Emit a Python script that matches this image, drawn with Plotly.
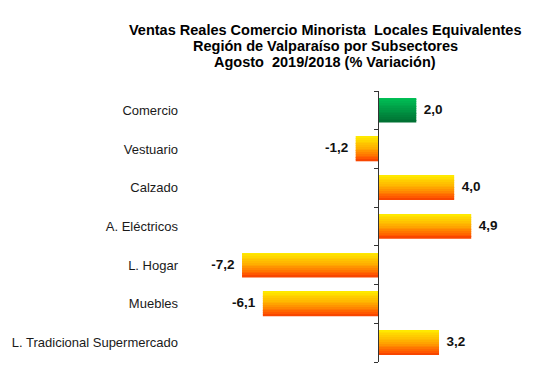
import plotly.graph_objects as go

# ---- data ----
categories = ["Comercio", "Vestuario", "Calzado", "A. Eléctricos",
              "L. Hogar", "Muebles", "L. Tradicional Supermercado"]
variation = [2.0, -1.2, 4.0, 4.9, -7.2, -6.1, 3.2]
title_lines = ["Ventas Reales Comercio Minorista  Locales Equivalentes",
               "Región de Valparaíso por Subsectores",
               "Agosto  2019/2018 (% Variación)"]

# ---- styling ----
W, H = 539, 379
ML, MR, MT, MB = 189, 28, 91, 17
x_min, x_max = -10.0, 7.0
bar_w = 0.63
n_slices = 14
warm_stops = [(0.0, (255, 238, 0)), (0.5, (255, 170, 0)), (0.93, (255, 80, 0)), (1.0, (240, 60, 0))]
green_stops = [(0.0, (0, 194, 86)), (1.0, (0, 110, 50))]
FONT = "Liberation Sans, Arial, sans-serif"


def interp(stops, t):
    for (t0, c0), (t1, c1) in zip(stops[:-1], stops[1:]):
        if t0 <= t <= t1:
            f = (t - t0) / (t1 - t0) if t1 > t0 else 0
            return "rgb(%d,%d,%d)" % tuple(round(a + (b - a) * f) for a, b in zip(c0, c1))
    return "rgb(%d,%d,%d)" % stops[-1][1]


fig = go.Figure()
sw = bar_w / n_slices
for i in range(n_slices):
    t = (i + 0.5) / n_slices
    cols = [interp(green_stops if c == "Comercio" else warm_stops, t) for c in categories]
    fig.add_trace(go.Bar(
        x=variation, y=categories, orientation="h",
        width=sw * 1.02, offset=-bar_w / 2 + i * sw,
        marker=dict(color=cols, line=dict(width=0)),
        hoverinfo="skip", showlegend=False,
    ))

# value labels
labels = [("%.1f" % v).replace(".", ",") for v in variation]
fig.add_trace(go.Scatter(
    x=variation, y=categories, mode="text",
    text=[("  " + s) if v >= 0 else (s + "  ") for s, v in zip(labels, variation)],
    textposition=["middle right" if v >= 0 else "middle left" for v in variation],
    textfont=dict(family=FONT, size=13.5, color="#111111"),
    texttemplate="<b>%{text}</b>",
    hoverinfo="skip", showlegend=False,
))

# invisible trace to give the secondary axis (the x=0 spine) a home
fig.add_trace(go.Scatter(x=[0], y=[0], yaxis="y2", mode="markers",
                         marker=dict(opacity=0), hoverinfo="skip", showlegend=False))

pos0 = (0 - x_min) / (x_max - x_min)
plot_h = H - MT - MB
plot_w = W - ML - MR

# title lines as separate annotations (tight line spacing)
title_centers_px = [30, 46, 61.5]
for line, yc in zip(title_lines, title_centers_px):
    fig.add_annotation(
        text="<b>%s</b>" % line, showarrow=False,
        xref="paper", yref="paper",
        x=(325 - ML) / plot_w, y=(H - MB - yc) / plot_h,
        xanchor="center", yanchor="middle",
        font=dict(family=FONT, size=14.5, color="#000000"),
    )

fig.update_layout(
    width=W, height=H,
    margin=dict(l=ML, r=MR, t=MT, b=MB, autoexpand=False),
    paper_bgcolor="white", plot_bgcolor="white",
    barmode="overlay",
    showlegend=False,
    font=dict(family=FONT, size=13, color="#1a1a1a"),
    xaxis=dict(range=[x_min, x_max], visible=False, showgrid=False, zeroline=False,
               automargin=False),
    yaxis=dict(type="category", categoryorder="array", categoryarray=categories,
               autorange="reversed", showgrid=False, showline=False, ticks="",
               automargin=False,
               ticklabelstandoff=10, tickfont=dict(family=FONT, size=13, color="#1a1a1a")),
    yaxis2=dict(overlaying="y", anchor="free", position=pos0, side="left",
                range=[len(categories) - 0.5, -0.5], automargin=False,
                tickvals=[k - 0.5 for k in range(len(categories) + 1)],
                showticklabels=False, ticks="outside", ticklen=4, tickcolor="#333333",
                showline=True, linecolor="#333333", linewidth=1,
                showgrid=False, zeroline=False),
)

fig.write_html("out.html",
               config={"displayModeBar": False},
               post_script="document.body.style.margin='0px';document.body.style.padding='0px';")
